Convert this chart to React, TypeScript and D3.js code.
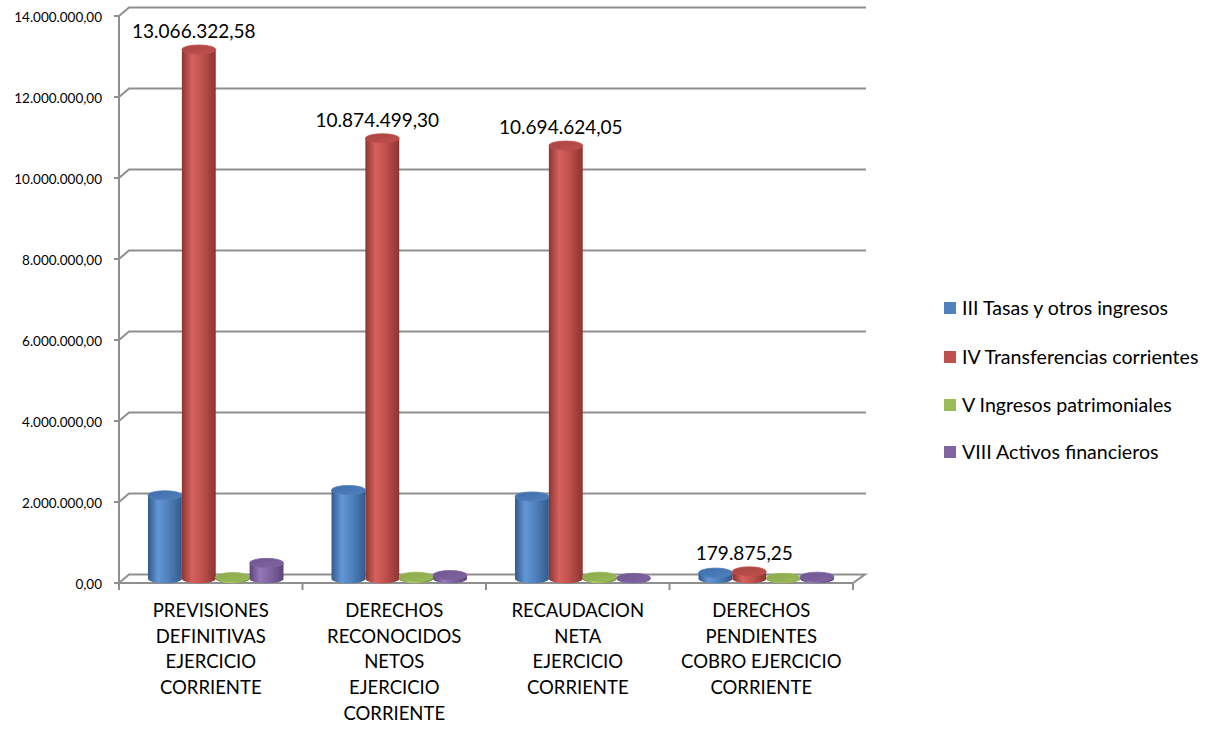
import React, { useEffect, useRef } from "react";
import * as d3 from "d3";

const categories = [
  "PREVISIONES DEFINITIVAS EJERCICIO CORRIENTE",
  "DERECHOS RECONOCIDOS NETOS EJERCICIO CORRIENTE",
  "RECAUDACION NETA EJERCICIO CORRIENTE",
  "DERECHOS PENDIENTES COBRO EJERCICIO CORRIENTE",
];
const categoryLines = [
  ["PREVISIONES", "DEFINITIVAS", "EJERCICIO", "CORRIENTE"],
  ["DERECHOS", "RECONOCIDOS", "NETOS", "EJERCICIO", "CORRIENTE"],
  ["RECAUDACION", "NETA", "EJERCICIO", "CORRIENTE"],
  ["DERECHOS", "PENDIENTES", "COBRO EJERCICIO", "CORRIENTE"],
];

const seriesNames = [
  "III Tasas y otros ingresos",
  "IV Transferencias corrientes",
  "V Ingresos patrimoniales",
  "VIII Activos financieros",
];
const tasas = [2060000, 2190000, 2030000, 150000];
const transferencias = [13066322.58, 10874499.3, 10694624.05, 179875.25];
const patrimoniales = [40000, 50000, 50000, 20000];
const activos = [390000, 90000, 20000, 50000];
const seriesValues = [tasas, transferencias, patrimoniales, activos];

const yTicks = [0, 2000000, 4000000, 6000000, 8000000, 10000000, 12000000, 14000000];

// base / light / dark per series
const palette = [
  { base: "#4F81BD", light: "#6496d6", dark: "#335a8c", top: "#3f6eab" },
  { base: "#C0504D", light: "#d6625e", dark: "#8c3532", top: "#a94542" },
  { base: "#9BBB59", light: "#aecd6c", dark: "#6e8a39", top: "#89a84b" },
  { base: "#8064A2", light: "#9479b8", dark: "#5a4578", top: "#6f5790" },
];

const FONT = "Lato, 'Open Sans', sans-serif";

const App = () => {
  const svgRef = useRef(null);

  useEffect(() => {
    const width = 1217;
    const height = 729;
    const left = 119;
    const right = 853;
    const depthX = 10;
    const depthY = -8.5;

    const svg = d3.select(svgRef.current).attr("width", width).attr("height", height);
    svg.selectAll("*").remove();

    const y = d3.scaleLinear().domain([0, 14000000]).range([583, 16]);
    const x0 = d3.scaleBand().domain(categories).range([left, right]).padding(0);
    const x1 = d3
      .scaleBand()
      .domain(seriesNames)
      .range([24, x0.bandwidth() - 24]);

    const fmt = d3.formatLocale({
      decimal: ",",
      thousands: ".",
      grouping: [3],
      currency: ["", "€"],
    }).format(",.2f");

    const defs = svg.append("defs");
    palette.forEach((p, i) => {
      const g = defs.append("linearGradient").attr("id", `body${i}`).attr("x1", 0).attr("x2", 1).attr("y1", 0).attr("y2", 0);
      g.append("stop").attr("offset", "0%").attr("stop-color", p.dark);
      g.append("stop").attr("offset", "30%").attr("stop-color", p.light);
      g.append("stop").attr("offset", "60%").attr("stop-color", p.base);
      g.append("stop").attr("offset", "100%").attr("stop-color", p.dark);
      const t = defs.append("linearGradient").attr("id", `top${i}`).attr("x1", 0).attr("x2", 1).attr("y1", 0).attr("y2", 1);
      t.append("stop").attr("offset", "0%").attr("stop-color", p.top);
      t.append("stop").attr("offset", "100%").attr("stop-color", p.base);
    });

    const grid = "#8f8f8f";

    // gridlines on side wall + back wall
    yTicks.forEach((t) => {
      const yy = y(t);
      if (t === 0) return;
      svg.append("path")
        .attr("d", `M${left},${yy} L${left + depthX},${yy + depthY} L${right + depthX + 3},${yy + depthY}`)
        .attr("fill", "none")
        .attr("stroke", grid)
        .attr("stroke-width", 2);
    });

    // floor
    svg.append("path")
      .attr("d", `M${left},${y(0)} L${left + depthX},${y(0) + depthY} L${right + depthX + 2},${y(0) + depthY} L${right},${y(0)} Z`)
      .attr("fill", "none")
      .attr("stroke", grid)
      .attr("stroke-width", 2);

    // y axis line + ticks
    svg.append("line")
      .attr("x1", left).attr("x2", left)
      .attr("y1", y(14000000)).attr("y2", y(0))
      .attr("stroke", grid).attr("stroke-width", 2);

    yTicks.forEach((t) => {
      svg.append("line")
        .attr("x1", left - 5).attr("x2", left)
        .attr("y1", y(t)).attr("y2", y(t))
        .attr("stroke", grid).attr("stroke-width", 2);
      svg.append("text")
        .attr("x", 102)
        .attr("y", y(t) + 1)
        .attr("dy", "0.35em")
        .attr("text-anchor", "end")
        .style("font-family", FONT)
        .style("font-size", "13.5px")
        .attr("fill", "#000")
        .text(fmt(t));
    });

    // x ticks
    const bounds = categories.map((c) => x0(c)).concat([right]);
    bounds.forEach((b) => {
      svg.append("line")
        .attr("x1", b).attr("x2", b)
        .attr("y1", y(0)).attr("y2", y(0) + 7)
        .attr("stroke", grid).attr("stroke-width", 2);
    });

    // cylinders
    const midX = depthX / 2;
    const midY = depthY / 2;
    categories.forEach((c, ci) => {
      seriesNames.forEach((s, si) => {
        const v = seriesValues[si][ci];
        const bx = x0(c) + x1(s) + midX;
        const bw = x1.bandwidth();
        const rx = bw / 2;
        const ry = 4.6;
        const yb = y(0) + midY;
        const yt = y(v) + midY;
        const g = svg.append("g");
        g.append("path")
          .attr("d", `M${bx},${yt} L${bx},${yb} A${rx},${ry} 0 0 0 ${bx + bw},${yb} L${bx + bw},${yt} Z`)
          .attr("fill", `url(#body${si})`);
        g.append("ellipse")
          .attr("cx", bx + rx)
          .attr("cy", yt)
          .attr("rx", rx)
          .attr("ry", ry)
          .attr("fill", `url(#top${si})`)
          .attr("stroke", palette[si].base)
          .attr("stroke-width", 0.8);
      });
    });

    // data labels (IV Transferencias corrientes)
    categories.forEach((c, ci) => {
      const s = seriesNames[1];
      const v = transferencias[ci];
      svg.append("text")
        .attr("x", x0(c) + x1(s) + x1.bandwidth() / 2)
        .attr("y", y(v) - 15.5)
        .attr("text-anchor", "middle")
        .style("font-family", FONT)
        .style("font-size", "19px")
        .attr("fill", "#000")
        .text(fmt(v));
    });

    // category labels
    categories.forEach((c, ci) => {
      const t = svg.append("text")
        .attr("text-anchor", "middle")
        .style("font-family", FONT)
        .style("font-size", "18.5px")
        .attr("fill", "#000");
      categoryLines[ci].forEach((line, li) => {
        t.append("tspan")
          .attr("x", x0(c) + x0.bandwidth() / 2)
          .attr("y", 617 + li * 25.7)
          .text(line);
      });
    });

    // legend
    const legendY = [308, 357, 405, 452];
    seriesNames.forEach((s, i) => {
      svg.append("rect")
        .attr("x", 944).attr("y", legendY[i] - 6)
        .attr("width", 12).attr("height", 12)
        .attr("fill", palette[i].base);
      svg.append("text")
        .attr("x", 962)
        .attr("y", legendY[i])
        .attr("dy", "0.35em")
        .style("font-family", FONT)
        .style("font-size", "19.6px")
        .attr("fill", "#000")
        .text(s);
    });
  }, []);

  return (
    <svg
      ref={svgRef}
      style={{ position: "absolute", left: 0, top: 0, background: "#fff" }}
    ></svg>
  );
};

export default App;
